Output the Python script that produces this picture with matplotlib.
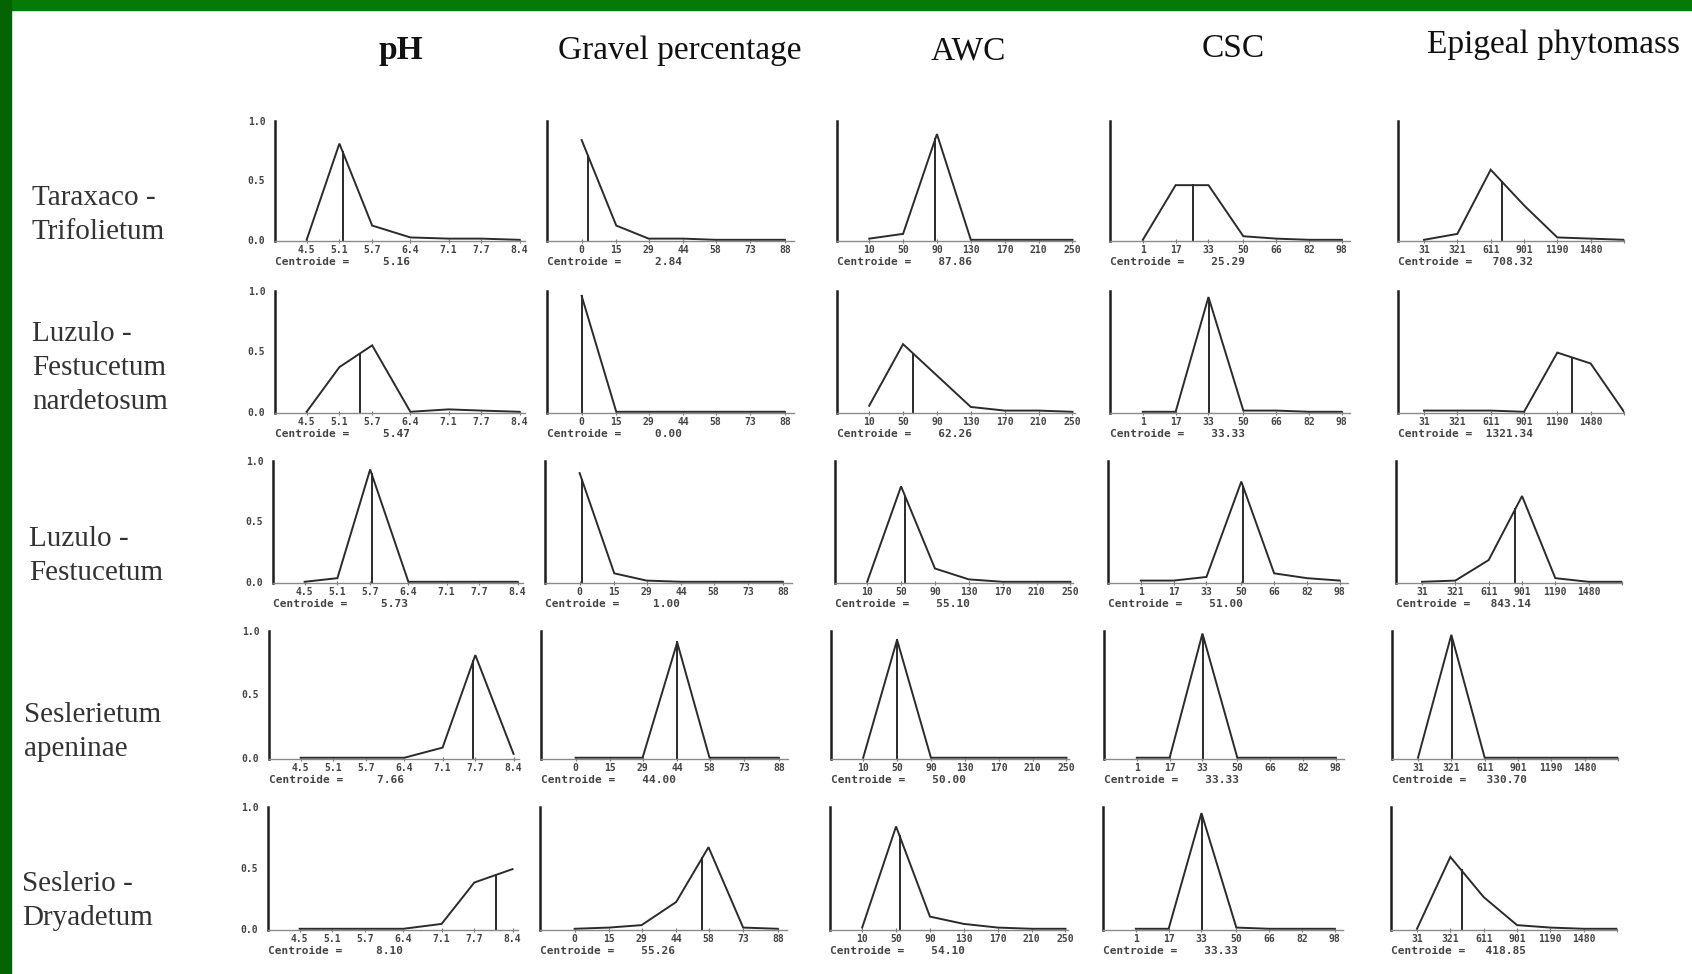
import matplotlib
matplotlib.use('Agg')
import matplotlib.pyplot as plt
from matplotlib.patches import Rectangle
import numpy as np

# rows = plant communities, columns = soil / vegetation variables
communities = ['Taraxaco -\nTrifolietum', 'Luzulo -\nFestucetum\nnardetosum',
               'Luzulo -\nFestucetum', 'Seslerietum\napeninae', 'Seslerio -\nDryadetum']
variables = ['pH', 'Gravel percentage', 'AWC', 'CSC', 'Epigeal phytomass']

# class values on the x axis of each variable
ph_classes = [4.5, 5.1, 5.7, 6.4, 7.1, 7.7, 8.4]
gravel_classes = [0, 15, 29, 44, 58, 73, 88]
awc_classes = [10, 50, 90, 130, 170, 210, 250]
csc_classes = [1, 17, 33, 50, 66, 82, 98]
phyto_classes = [31, 321, 611, 901, 1190, 1480, 1770]

ph_labels = ['4.5', '5.1', '5.7', '6.4', '7.1', '7.7', '8.4']
gravel_labels = ['0', '15', '29', '44', '58', '73', '88']
awc_labels = ['10', '50', '90', '130', '170', '210', '250']
csc_labels = ['1', '17', '33', '50', '66', '82', '98']
phyto_labels = ['31', '321', '611', '901', '1190', '1480', '']

# membership degree of each class, one list per community
ph_membership = [
    [0.00, 0.81, 0.12, 0.02, 0.01, 0.01, 0.00],
    [0.00, 0.37, 0.55, 0.00, 0.02, 0.01, 0.00],
    [0.00, 0.03, 0.93, 0.00, 0.00, 0.00, 0.00],
    [0.00, 0.00, 0.00, 0.00, 0.08, 0.81, 0.03],
    [0.00, 0.00, 0.00, 0.00, 0.04, 0.38, 0.49],
]
gravel_membership = [
    [0.84, 0.12, 0.01, 0.01, 0.00, 0.00, 0.00],
    [0.96, 0.00, 0.00, 0.00, 0.00, 0.00, 0.00],
    [0.90, 0.07, 0.01, 0.00, 0.00, 0.00, 0.00],
    [0.00, 0.00, 0.00, 0.91, 0.00, 0.00, 0.00],
    [0.00, 0.01, 0.03, 0.22, 0.67, 0.01, 0.00],
]
awc_membership = [
    [0.01, 0.05, 0.89, 0.00, 0.00, 0.00, 0.00],
    [0.05, 0.56, 0.30, 0.04, 0.01, 0.01, 0.00],
    [0.00, 0.79, 0.11, 0.02, 0.00, 0.00, 0.00],
    [0.00, 0.93, 0.00, 0.00, 0.00, 0.00, 0.00],
    [0.01, 0.84, 0.10, 0.04, 0.01, 0.00, 0.00],
]
csc_membership = [
    [0.00, 0.46, 0.46, 0.03, 0.01, 0.00, 0.00],
    [0.00, 0.00, 0.95, 0.01, 0.01, 0.00, 0.00],
    [0.01, 0.01, 0.04, 0.83, 0.07, 0.03, 0.01],
    [0.00, 0.00, 0.98, 0.00, 0.00, 0.00, 0.00],
    [0.00, 0.00, 0.95, 0.01, 0.00, 0.00, 0.00],
]
phyto_membership = [
    [0.00, 0.05, 0.59, 0.29, 0.02, 0.01, 0.00],
    [0.01, 0.01, 0.01, 0.00, 0.49, 0.40, 0.00],
    [0.00, 0.01, 0.18, 0.71, 0.03, 0.00, 0.00],
    [0.00, 0.97, 0.00, 0.00, 0.00, 0.00, 0.00],
    [0.00, 0.59, 0.26, 0.03, 0.01, 0.00, 0.00],
]

ph_centroid = [5.16, 5.47, 5.73, 7.66, 8.10]
gravel_centroid = [2.84, 0.00, 1.00, 44.00, 55.26]
awc_centroid = [87.86, 62.26, 55.10, 50.00, 54.10]
csc_centroid = [25.29, 33.33, 51.00, 33.33, 33.33]
phyto_centroid = [708.32, 1321.34, 843.14, 330.70, 418.85]

columns = [
    (ph_classes, ph_labels, ph_membership, ph_centroid, (3.92, 8.5)),
    (gravel_classes, gravel_labels, gravel_membership, gravel_centroid, (-15, 92)),
    (awc_classes, awc_labels, awc_membership, awc_centroid, (-28, 253)),
    (csc_classes, csc_labels, csc_membership, csc_centroid, (-15, 102)),
    (phyto_classes, phyto_labels, phyto_membership, phyto_centroid, (-195, 1627)),
]

# layout in pixels of the 1692x974 canvas
W, H = 1692, 974
col_left = [275, 547, 837, 1110, 1398]
col_width = [250, 247, 238, 240, 226]
row_shift = [0, 0, -2, -6, -7]
row_top = [121, 291, 461, 631, 807]
row_base = [241, 413, 583, 759, 930]
header_x = [401, 680, 968, 1233, 1553]
header_y = [51, 51, 51, 49, 45]
label_x = [32, 32, 29, 24, 22]
label_y = [215, 368, 556, 732, 901]

ink = '#2b2b2b'
mono = 'DejaVu Sans Mono'
serif = 'Liberation Serif'

fig = plt.figure(figsize=(W / 100, H / 100), dpi=100)
fig.patch.set_facecolor('white')

# green slide frame
fig.patches.append(Rectangle((0, 1 - 10 / H), 1, 10 / H, transform=fig.transFigure,
                             color='#067a06', zorder=0))
fig.patches.append(Rectangle((0, 0), 11 / W, 1, transform=fig.transFigure,
                             color='#046404', zorder=0))

for j, name in enumerate(variables):
    fig.text(header_x[j] / W, 1 - header_y[j] / H, name, family=serif, fontsize=24,
             fontweight='bold' if j == 0 else 'normal', ha='center', va='center', color='#111111')

for i, name in enumerate(communities):
    fig.text(label_x[i] / W, 1 - label_y[i] / H, name, family=serif, fontsize=21,
             ha='left', va='center', color='#333333', linespacing=1.4)

for i in range(len(communities)):
    for j, (classes, labels, membership, centroid, xlim) in enumerate(columns):
        left = col_left[j] + row_shift[i]
        ax = fig.add_axes([left / W, 1 - row_base[i] / H, col_width[j] / W,
                           (row_base[i] - row_top[i]) / H])
        ax.set_facecolor('none')
        y = membership[i]
        ax.plot(classes, y, color=ink, lw=1.4, solid_joinstyle='miter')
        c = centroid[i]
        ax.plot([c, c], [0, np.interp(c, classes, y)], color=ink, lw=1.4)

        ax.set_xlim(*xlim)
        ax.set_ylim(-0.01, 1.0)
        for side in ['top', 'right']:
            ax.spines[side].set_visible(False)
        ax.spines['left'].set_color('#1e1e1e')
        ax.spines['left'].set_linewidth(1.8)
        ax.spines['bottom'].set_color('#8a8a8a')
        ax.spines['bottom'].set_linewidth(1.0)

        ax.set_xticks(classes)
        ax.set_xticklabels(labels, family=mono, fontweight='bold', fontsize=7, color='#444444')
        ax.tick_params(axis='x', length=3, width=0.8, color='#777777', direction='inout', pad=1.5)
        if j == 0:
            ax.set_yticks([0, 0.5, 1.0])
            ax.set_yticklabels(['0.0', '0.5', '1.0'], family=mono, fontweight='bold',
                               fontsize=7, color='#444444')
            ax.tick_params(axis='y', length=0, pad=7)
        else:
            ax.set_yticks([])

        ax.annotate(f'Centroide = {c:>8.2f}', xy=(0, 0), xycoords='axes fraction',
                    xytext=(0, -21), textcoords='offset pixels', family=mono,
                    fontweight='bold', fontsize=8, color='#444444', ha='left', va='center')

fig.savefig('out.png', dpi=100, facecolor='white')
